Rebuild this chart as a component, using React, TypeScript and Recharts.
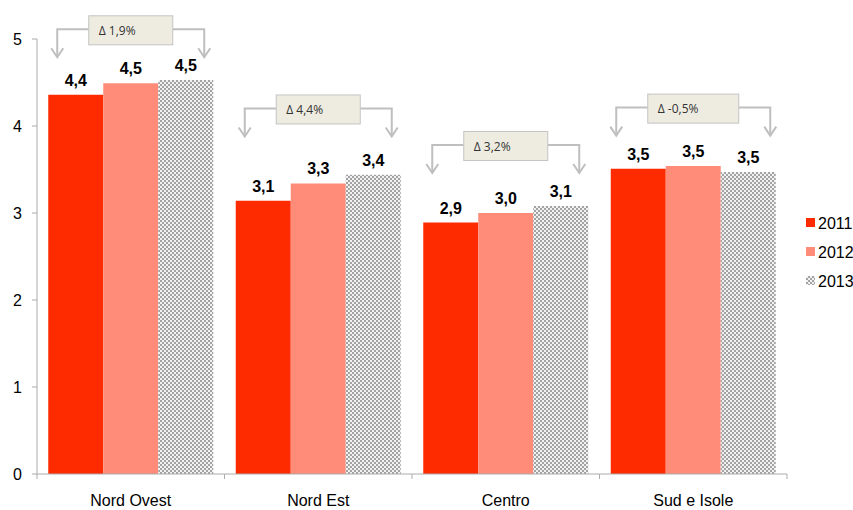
import React from 'react';
import { BarChart, Bar, XAxis, YAxis, Legend, LabelList, ReferenceDot } from 'recharts';

const regions = ['Nord Ovest', 'Nord Est', 'Centro', 'Sud e Isole'];
const values2011 = [4.36, 3.14, 2.89, 3.51];
const values2012 = [4.49, 3.34, 3.0, 3.54];
const values2013 = [4.53, 3.44, 3.08, 3.47];
const deltaLabels = ['Δ 1,9%', 'Δ 4,4%', 'Δ 3,2%', 'Δ -0,5%'];
const deltaLevels = [5.1, 4.19, 3.77, 4.2];
const yTicks = [0, 1, 2, 3, 4, 5];
const seriesNames = ['2011', '2012', '2013'];

const COLORS = ['#FF2B00', '#FF8C78', 'url(#checker)'];
const AXIS = '#ABABAB';
const FONT = '"Liberation Sans", Arial, sans-serif';
const X_TICK_SIZE = 5;
const X_TICK_MARGIN = 16;

const data = regions.map((r, i) => ({
  region: r,
  y2011: values2011[i],
  y2012: values2012[i],
  y2013: values2013[i],
}));

const fmt = (v: number) => v.toFixed(1).replace('.', ',');

const makeLabel = (p: any) => {
  const { x, y, width, value } = p;
  return (
    <text
      x={Number(x) + Number(width) / 2}
      y={Number(y) - 9}
      textAnchor="middle"
      fontFamily={FONT}
      fontWeight="bold"
      fontSize={16}
      fill="#000"
    >
      {fmt(Number(value))}
    </text>
  );
};

const XTick = (props: any) => {
  const { x, y, payload, index } = props;
  const half = payload && typeof payload.offset === 'number' && payload.offset > 0 ? payload.offset : 93.75;
  const axisY = y - X_TICK_SIZE - X_TICK_MARGIN;
  return (
    <g>
      <line x1={x - half} x2={x - half} y1={axisY} y2={axisY + 5} stroke={AXIS} strokeWidth={1} />
      {index === regions.length - 1 && (
        <line x1={x + half} x2={x + half} y1={axisY} y2={axisY + 5} stroke={AXIS} strokeWidth={1} />
      )}
      <text x={x} y={y} dy="0.71em" textAnchor="middle" fontFamily={FONT} fontSize={16} fill="#000">
        {payload.value}
      </text>
    </g>
  );
};

const makeDelta = (text: string) => (props: any) => {
  const { cx, cy } = props;
  const boxW = 84 + (text.length - 6) * 7;
  const boxH = 29;
  const half = boxW / 2 + 31.5;
  const lineY = cy - 1;
  const tipY = cy + 27;
  const left = cx - half;
  const right = cx + half;
  const col = '#BFBFBF';
  return (
    <g>
      <path d={`M${cx - boxW / 2},${lineY} H${left} V${tipY}`} stroke={col} strokeWidth={2} fill="none" />
      <path d={`M${left - 6},${tipY - 9} L${left},${tipY} L${left + 6},${tipY - 9}`} stroke={col} strokeWidth={2} fill="none" />
      <path d={`M${cx + boxW / 2},${lineY} H${right} V${tipY}`} stroke={col} strokeWidth={2} fill="none" />
      <path d={`M${right - 6},${tipY - 9} L${right},${tipY} L${right + 6},${tipY - 9}`} stroke={col} strokeWidth={2} fill="none" />
      <rect x={cx - boxW / 2} y={cy - boxH / 2} width={boxW} height={boxH} fill="#EEECE1" stroke="#C4C4C4" strokeWidth={1} />
      <text x={cx - boxW / 2 + 10} y={cy + 4.5} fontFamily='"Open Sans", sans-serif' fontSize={12} fill="#333">
        {text}
      </text>
    </g>
  );
};

const LegendContent = () => (
  <svg width={80} height={90} style={{ display: 'block', overflow: 'visible' }}>
    {seriesNames.map((n, i) => (
      <g key={n} transform={`translate(0, ${i * 29})`}>
        <rect x={0} y={10} width={9} height={9} fill={COLORS[i]} />
        <text x={12} y={20.5} fontFamily={FONT} fontSize={16} fill="#000">
          {n}
        </text>
      </g>
    ))}
  </svg>
);

export default function App() {
  return (
    <div style={{ position: 'absolute', left: 0, top: 0, width: 853, height: 510, overflow: 'hidden', background: '#fff' }}>
      <svg width={0} height={0} style={{ position: 'absolute' }}>
        <defs>
          <pattern id="checker" width={4} height={4} patternUnits="userSpaceOnUse">
            <rect width={4} height={4} fill="#F2F2F2" />
            <rect width={2} height={2} fill="#A3A3A3" />
            <rect x={2} y={2} width={2} height={2} fill="#A3A3A3" />
          </pattern>
        </defs>
      </svg>
      <BarChart
        width={880}
        height={510}
        data={data}
        margin={{ top: 39, right: 93, bottom: 0, left: 0 }}
        barCategoryGap="6%"
        barGap={0}
      >
        <XAxis
          dataKey="region"
          height={36}
          interval={0}
          tickLine={false}
          tickSize={X_TICK_SIZE}
          tickMargin={X_TICK_MARGIN}
          axisLine={{ stroke: AXIS }}
          tick={<XTick />}
        />
        <YAxis
          width={37}
          domain={[0, 5]}
          ticks={yTicks}
          interval={0}
          tickSize={5}
          tickMargin={10}
          axisLine={{ stroke: AXIS }}
          tickLine={{ stroke: AXIS }}
          tick={{ fill: '#000', fontSize: 16, fontFamily: FONT }}
        />
        <Legend
          layout="vertical"
          align="center"
          verticalAlign="middle"
          wrapperStyle={{ left: 806, top: 208, width: 80 }}
          content={<LegendContent />}
        />
        <Bar dataKey="y2011" name={seriesNames[0]} fill={COLORS[0]} isAnimationActive={false}>
          <LabelList dataKey="y2011" content={makeLabel} />
        </Bar>
        <Bar dataKey="y2012" name={seriesNames[1]} fill={COLORS[1]} isAnimationActive={false}>
          <LabelList dataKey="y2012" content={makeLabel} />
        </Bar>
        <Bar dataKey="y2013" name={seriesNames[2]} fill={COLORS[2]} isAnimationActive={false}>
          <LabelList dataKey="y2013" content={makeLabel} />
        </Bar>
        {regions.map((r, i) => (
          <ReferenceDot
            key={r}
            x={r}
            y={deltaLevels[i]}
            ifOverflow="visible"
            shape={makeDelta(deltaLabels[i])}
          />
        ))}
      </BarChart>
    </div>
  );
}
